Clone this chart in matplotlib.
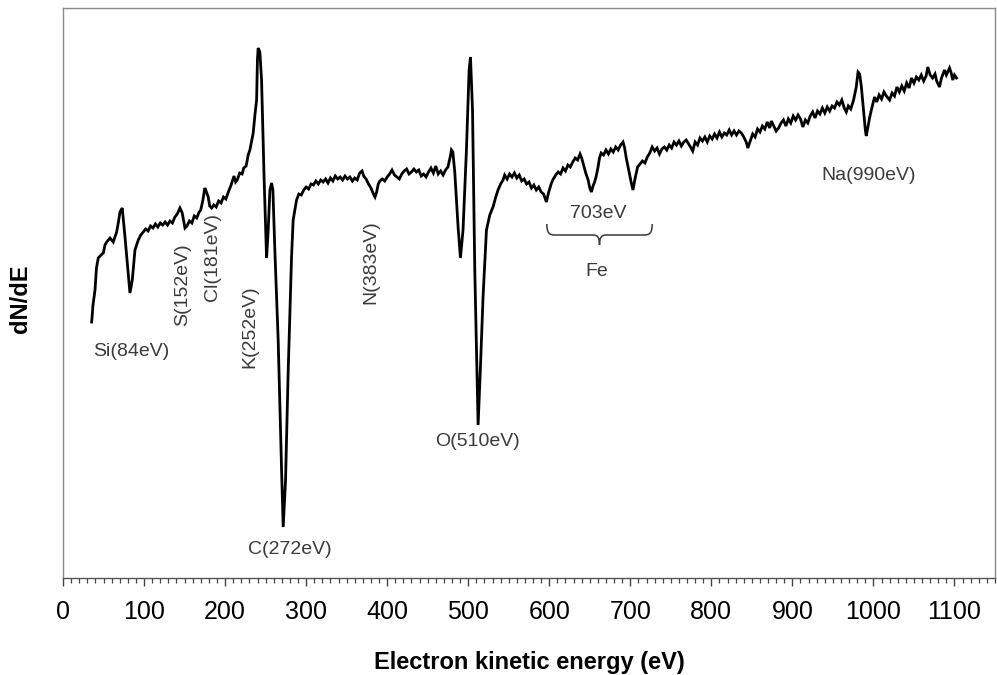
import matplotlib
matplotlib.use("Agg")
import matplotlib.pyplot as plt
from matplotlib.path import Path
from matplotlib.patches import PathPatch
from matplotlib.ticker import MultipleLocator

plt.rcParams['font.family'] = ['Liberation Sans', 'DejaVu Sans']

# Auger spectrum (dN/dE, arbitrary units) vs electron kinetic energy (eV)
energy = [
    35.4, 37.0, 39.5, 41.3, 43.5, 46.9, 49.7, 51.8, 53.9, 58.0, 62.0, 66.2, 68.4, 70.3, 73.1,
    76.5, 79.8, 82.6, 85.5, 88.8, 92.9, 96, 99,
    102, 105, 108, 111, 114, 117, 120, 123, 126, 129, 132, 135, 138.1, 141, 144.3, 147.1, 150.5,
    153, 156, 159, 162, 165, 168, 170, 172.6, 175.1, 177, 179.2, 181, 183.4, 186, 189, 192, 195,
    198, 201, 204, 207, 209, 211, 213, 215, 218, 221, 223, 226,
    228.5, 230.6, 234.7, 236.8, 238.9, 239.9, 240.8, 242.9, 245.0, 246.6, 248.2, 251.2, 253.2,
    255.3, 257.4, 259.0, 261.4, 265.5, 269.7, 271.7, 274.6, 277.8, 282.0, 284.0, 288.2,
    291, 294, 297, 300, 303, 306, 309, 312, 315, 318, 321, 324, 327, 330, 333, 336, 339, 342, 345,
    348, 351, 354, 357, 360, 363, 366, 369, 371, 374, 377, 380, 383, 385, 387, 389, 391, 394, 397,
    400, 403, 406, 409, 412, 415, 418, 421, 424, 427, 430, 433, 436, 439, 442, 445, 448, 451, 454,
    457, 460, 463, 466, 469, 472, 475, 478, 479.3, 481,
    483.4, 487.5, 490.4, 493.6, 497.8, 501.1, 502.8, 505.3, 508.1, 510.2, 512.2, 515.1, 518.3,
    522.5, 526.6, 530.6,
    534, 536.8, 540, 543, 545, 548, 551, 554, 557, 560, 563, 566, 569, 572, 575, 578, 581, 584,
    587, 590, 593, 596.5, 599, 602.7, 605, 608, 611, 614, 617, 620, 623, 626, 629, 632, 635, 638,
    640, 642, 645, 648, 650, 652, 654, 656, 658, 660, 662, 664, 667, 670, 673, 676, 679, 682, 685,
    688, 691, 693, 695, 698, 701, 703.3, 706, 709, 712, 715, 718, 721, 724, 727, 730, 733, 736,
    739, 742, 745,
    748, 751, 754, 757, 760, 763, 766, 769, 772, 775, 777, 780, 783, 786, 789, 792, 795, 798, 801,
    804, 807, 810, 813, 816, 819, 822, 825, 828, 831, 834, 837, 840, 843, 845, 848, 851, 854, 857,
    860, 863, 866, 869, 872, 874, 877, 880, 883, 886, 889, 892, 895, 898, 901, 904, 907, 910, 913,
    916, 919, 922, 925, 928, 931, 934, 937, 940, 943, 946, 949, 952, 955, 958, 961, 964, 966.5,
    969, 972, 975.5, 978.8, 981, 983, 985, 987.8, 990, 991.1, 993, 995.2, 998, 1001.4, 1004, 1007,
    1010, 1013, 1016, 1019.9, 1023, 1026, 1029, 1032, 1035, 1038, 1041, 1044, 1047, 1050, 1053,
    1056, 1059, 1062, 1065, 1067.1, 1070, 1073, 1076, 1078, 1081.5, 1084, 1087.7, 1090, 1093.9,
    1096, 1097.9, 1100, 1102.5]
dnde = [
    256, 273, 288, 310, 320, 323, 325, 333, 336, 340, 336, 346, 356, 366, 370,
    341, 311, 285, 298, 328, 338, 343, 346,
    349, 347, 352, 350, 354, 351, 355, 353, 356, 353, 357, 355, 361, 364, 370, 365, 350,
    352, 357, 355, 362, 360, 366, 368, 378, 390, 386, 381, 372, 370, 373, 371, 377, 375,
    381, 379, 386, 392, 397, 402, 396, 398, 405, 404, 410, 412,
    423, 428, 445, 463, 478, 518, 530, 526, 498, 448, 398, 320, 348,
    388, 395, 388, 328, 238, 108, 51, 98, 205, 321, 358, 378,
    384, 383, 388, 391, 389, 394, 393, 397, 394, 398, 396, 399, 395, 400, 397, 402, 399, 401, 398,
    402, 399, 401, 397, 400, 398, 405, 407, 402, 399, 394, 390, 384, 381, 386, 394, 397, 399, 397,
    401, 404, 408, 403, 401, 399, 404, 407, 409, 404, 406, 409, 406, 408, 402, 404, 401, 406, 410,
    405, 412, 404, 407, 403, 408, 411, 422, 428, 426,
    406, 351, 320, 348, 428, 508, 521, 468, 308, 228, 153, 211, 281,
    348, 363, 371,
    381, 388, 394, 398, 403, 399, 404, 401, 405, 400, 403, 397, 399, 394, 396, 390, 393, 388,
    391, 386, 384, 376, 385, 395, 399, 403, 406, 404, 410, 407, 413, 411, 416, 420, 418, 424,
    420, 414, 405, 398, 390, 386, 392, 396, 402, 410, 420, 425, 423, 428, 424, 429, 426, 431, 428,
    433, 436, 430, 420, 408, 396, 388, 400, 411, 414, 417, 415, 421, 425, 431, 427, 430, 424,
    429, 431, 428,
    433, 430, 436, 433, 437, 432, 436, 438, 434, 430, 427, 436, 433, 440, 437, 441, 436, 442, 439,
    444, 440, 446, 441, 445, 443, 448, 443, 447, 443, 447, 445, 441, 436, 430, 437, 444, 441, 449,
    446, 452, 449, 456, 450, 457, 452, 447, 450, 455, 458, 452, 459, 455, 462, 458, 463, 459, 451,
    458, 455, 462, 466, 460, 467, 464, 470, 465, 471, 467, 472, 470, 476, 473, 478, 470, 466,
    472, 469, 478, 491, 506, 504, 492, 468, 448, 442, 450, 460, 470, 481, 476, 483,
    479, 486, 482, 478, 485, 482, 491, 486, 492, 487, 495, 490, 500, 495, 501,
    498, 503, 497, 502, 511, 503, 500, 504, 497, 491, 500, 508, 503, 510,
    505, 498, 503, 500]

x_ticks = [0, 100, 200, 300, 400, 500, 600, 700, 800, 900, 1000, 1100]

# peak labels: (text, energy, level, rotation)
labels = [("Si(84eV)", 84, 226, 0),
          ("S(152eV)", 147, 293, 90),
          ("Cl(181eV)", 185, 321, 90),
          ("K(252eV)", 231, 251, 90),
          ("C(272eV)", 280, 29, 0),
          ("N(383eV)", 380, 316, 90),
          ("O(510eV)", 511, 137, 0),
          ("703eV", 660, 364, 0),
          ("Fe", 658, 307, 0),
          ("Na(990eV)", 994, 403, 0)]
brace_range = (597, 727)
brace_levels = (354, 343, 333)

fig = plt.figure(figsize=(9.97, 6.75), dpi=100)
ax = fig.add_axes([63 / 997, 1 - 578 / 675, (995 - 63) / 997, (578 - 8) / 675])
ax.plot(energy, dnde, color='black', lw=2.0, solid_joinstyle='miter')
ax.set_xlim(0, 1150)
ax.set_ylim(0, 570)
ax.set_yticks([])
ax.set_xticks(x_ticks)
ax.xaxis.set_minor_locator(MultipleLocator(10))
ax.tick_params(axis='x', which='major', length=6, width=1, labelsize=18, pad=10, color='#444444')
ax.tick_params(axis='x', which='minor', length=3.5, width=0.9, color='#444444')
for s in ['top', 'left', 'right']:
    ax.spines[s].set_color('#8a8a8a')
    ax.spines[s].set_linewidth(1.0)
ax.spines['bottom'].set_color('#555555')
ax.spines['bottom'].set_linewidth(1.0)

for txt, xe, yv, rot in labels:
    ax.text(xe, yv, txt, fontsize=14, color='#3a3a3a', rotation=rot, ha='center', va='center')

# brace under Fe peaks
x0, x1 = brace_range
ytop, ymid, ybot = brace_levels
xm = (x0 + x1) / 2
verts = [(x0, ytop), (x0, ymid + 2), (x0 + 3, ymid), (x0 + 10, ymid),
         (xm - 8, ymid), (xm - 8, ymid), (xm - 8, ymid),
         (xm - 2, ymid), (xm, ymid - 3), (xm, ybot),
         (xm, ymid - 3), (xm + 2, ymid), (xm + 8, ymid),
         (x1 - 10, ymid), (x1 - 10, ymid), (x1 - 10, ymid),
         (x1 - 3, ymid), (x1, ymid + 2), (x1, ytop)]
codes = [Path.MOVETO, Path.CURVE4, Path.CURVE4, Path.CURVE4,
         Path.LINETO, Path.LINETO, Path.LINETO,
         Path.CURVE4, Path.CURVE4, Path.CURVE4,
         Path.CURVE4, Path.CURVE4, Path.CURVE4,
         Path.LINETO, Path.LINETO, Path.LINETO,
         Path.CURVE4, Path.CURVE4, Path.CURVE4]
ax.add_patch(PathPatch(Path(verts, codes), fill=False, edgecolor='#3a3a3a', lw=1.1))

fig.text(529 / 997, 1 - 662 / 675, "Electron kinetic energy (eV)", fontsize=17, fontweight='bold',
         ha='center', va='center')
fig.text(20 / 997, 1 - 299 / 675, "dN/dE", fontsize=17, fontweight='bold', rotation=90,
         ha='center', va='center')

fig.savefig("out.png", dpi=100)
